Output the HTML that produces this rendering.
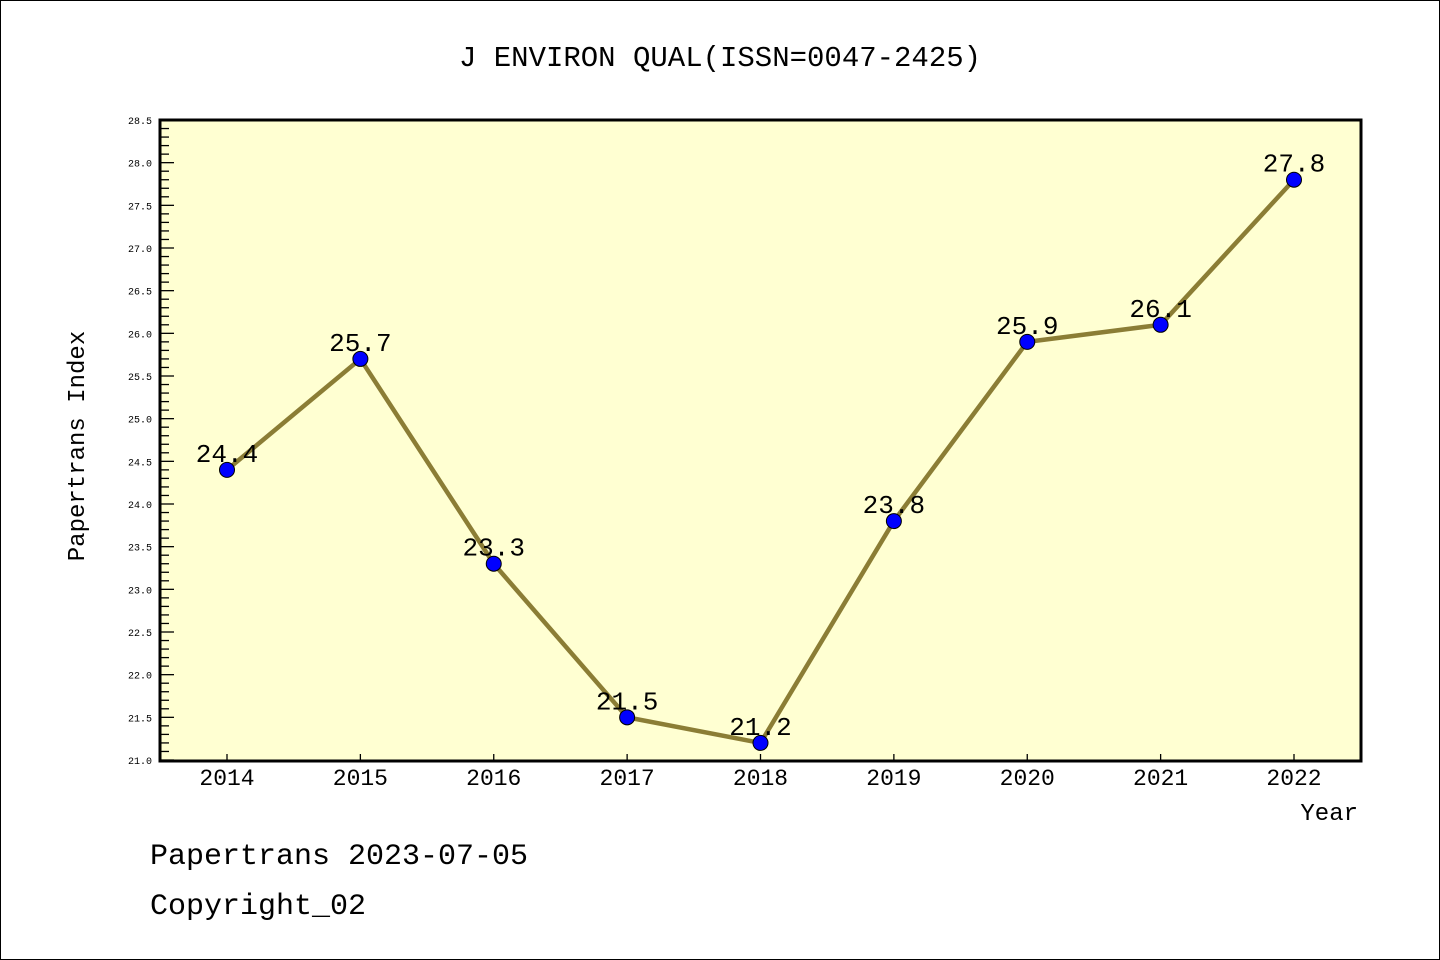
<!DOCTYPE html>
<html><head><meta charset="utf-8"><style>
body{margin:0;background:#fff}
svg{display:block}
text{font-family:"Liberation Mono","DejaVu Sans Mono",monospace}
</style></head><body>
<svg id="c" width="1440" height="960" xmlns="http://www.w3.org/2000/svg">
<rect x="0.5" y="0.5" width="1439" height="959" fill="#fff" stroke="#000"/>
<text x="720" y="66" text-anchor="middle" font-size="29">J ENVIRON QUAL(ISSN=0047-2425)</text>
<rect x="160" y="120" width="1201" height="641" fill="#ffffd2"/>
<g id="ticks"></g>
<g id="series"></g>
<rect x="160" y="120" width="1201" height="641" fill="none" stroke="#000" stroke-width="3"/>
<text transform="translate(84,446) rotate(-90)" text-anchor="middle" font-size="24">Papertrans Index</text>
<text x="1358" y="820" text-anchor="end" font-size="24">Year</text>
<text x="150" y="864" font-size="30">Papertrans 2023-07-05</text>
<text x="150" y="914" font-size="30">Copyright_02</text>
</svg>
<script>
const years=["2014","2015","2016","2017","2018","2019","2020","2021","2022"];
const values=[24.4,25.7,23.3,21.5,21.2,23.8,25.9,26.1,27.8];
const yMin=21.0,yMax=28.5;
const NS="http://www.w3.org/2000/svg";
const L=160,R=1361,T=120,B=760;
function y(v){return B-(v-yMin)/(yMax-yMin)*(B-T);}
function x(i){return 227+i*(1294-227)/(years.length-1);}
function mk(tag,attrs,parent){const e=document.createElementNS(NS,tag);for(const k in attrs)e.setAttribute(k,attrs[k]);parent.appendChild(e);return e;}
const tg=document.getElementById('ticks'),sg=document.getElementById('series');
for(let k=0;k<=Math.round((yMax-yMin)*10);k++){
 const v=yMin+k*0.1,yy=y(v),major=k%5===0;
 const ln=mk('line',{x1:L,x2:L+(major?14:9),y1:yy,y2:yy,stroke:'#000','stroke-width':1.3},tg);
 
 
 if(major){const t=mk('text',{x:152,y:yy+4,'text-anchor':'end','font-size':10,'font-family':'Liberation Sans'},tg);t.textContent=v.toFixed(1);
 
 }
}
years.forEach((yr,i)=>{
 const ln=mk('line',{x1:x(i),x2:x(i),y1:B,y2:B-6,stroke:'#000','stroke-width':1.3},tg);
 
 
 const t=mk('text',{x:x(i),y:785,'text-anchor':'middle','font-size':23,'font-family':'Liberation Sans'},tg);t.textContent=yr;
 
 
});
const pl=mk('polyline',{points:values.map((v,i)=>x(i)+','+y(v)).join(' '),fill:'none',stroke:'#8b7d35','stroke-width':4.5,'stroke-linejoin':'round'},sg);


values.forEach((v,i)=>{
 const c=mk('circle',{cx:x(i),cy:y(v),r:7.5,fill:'#0000ff',stroke:'#000','stroke-width':1},sg);
 
 
 const t=mk('text',{x:x(i),y:y(v)-8,'text-anchor':'middle','font-size':26},sg);t.textContent=v.toFixed(1);
 
 
});
</script>
</body></html>
